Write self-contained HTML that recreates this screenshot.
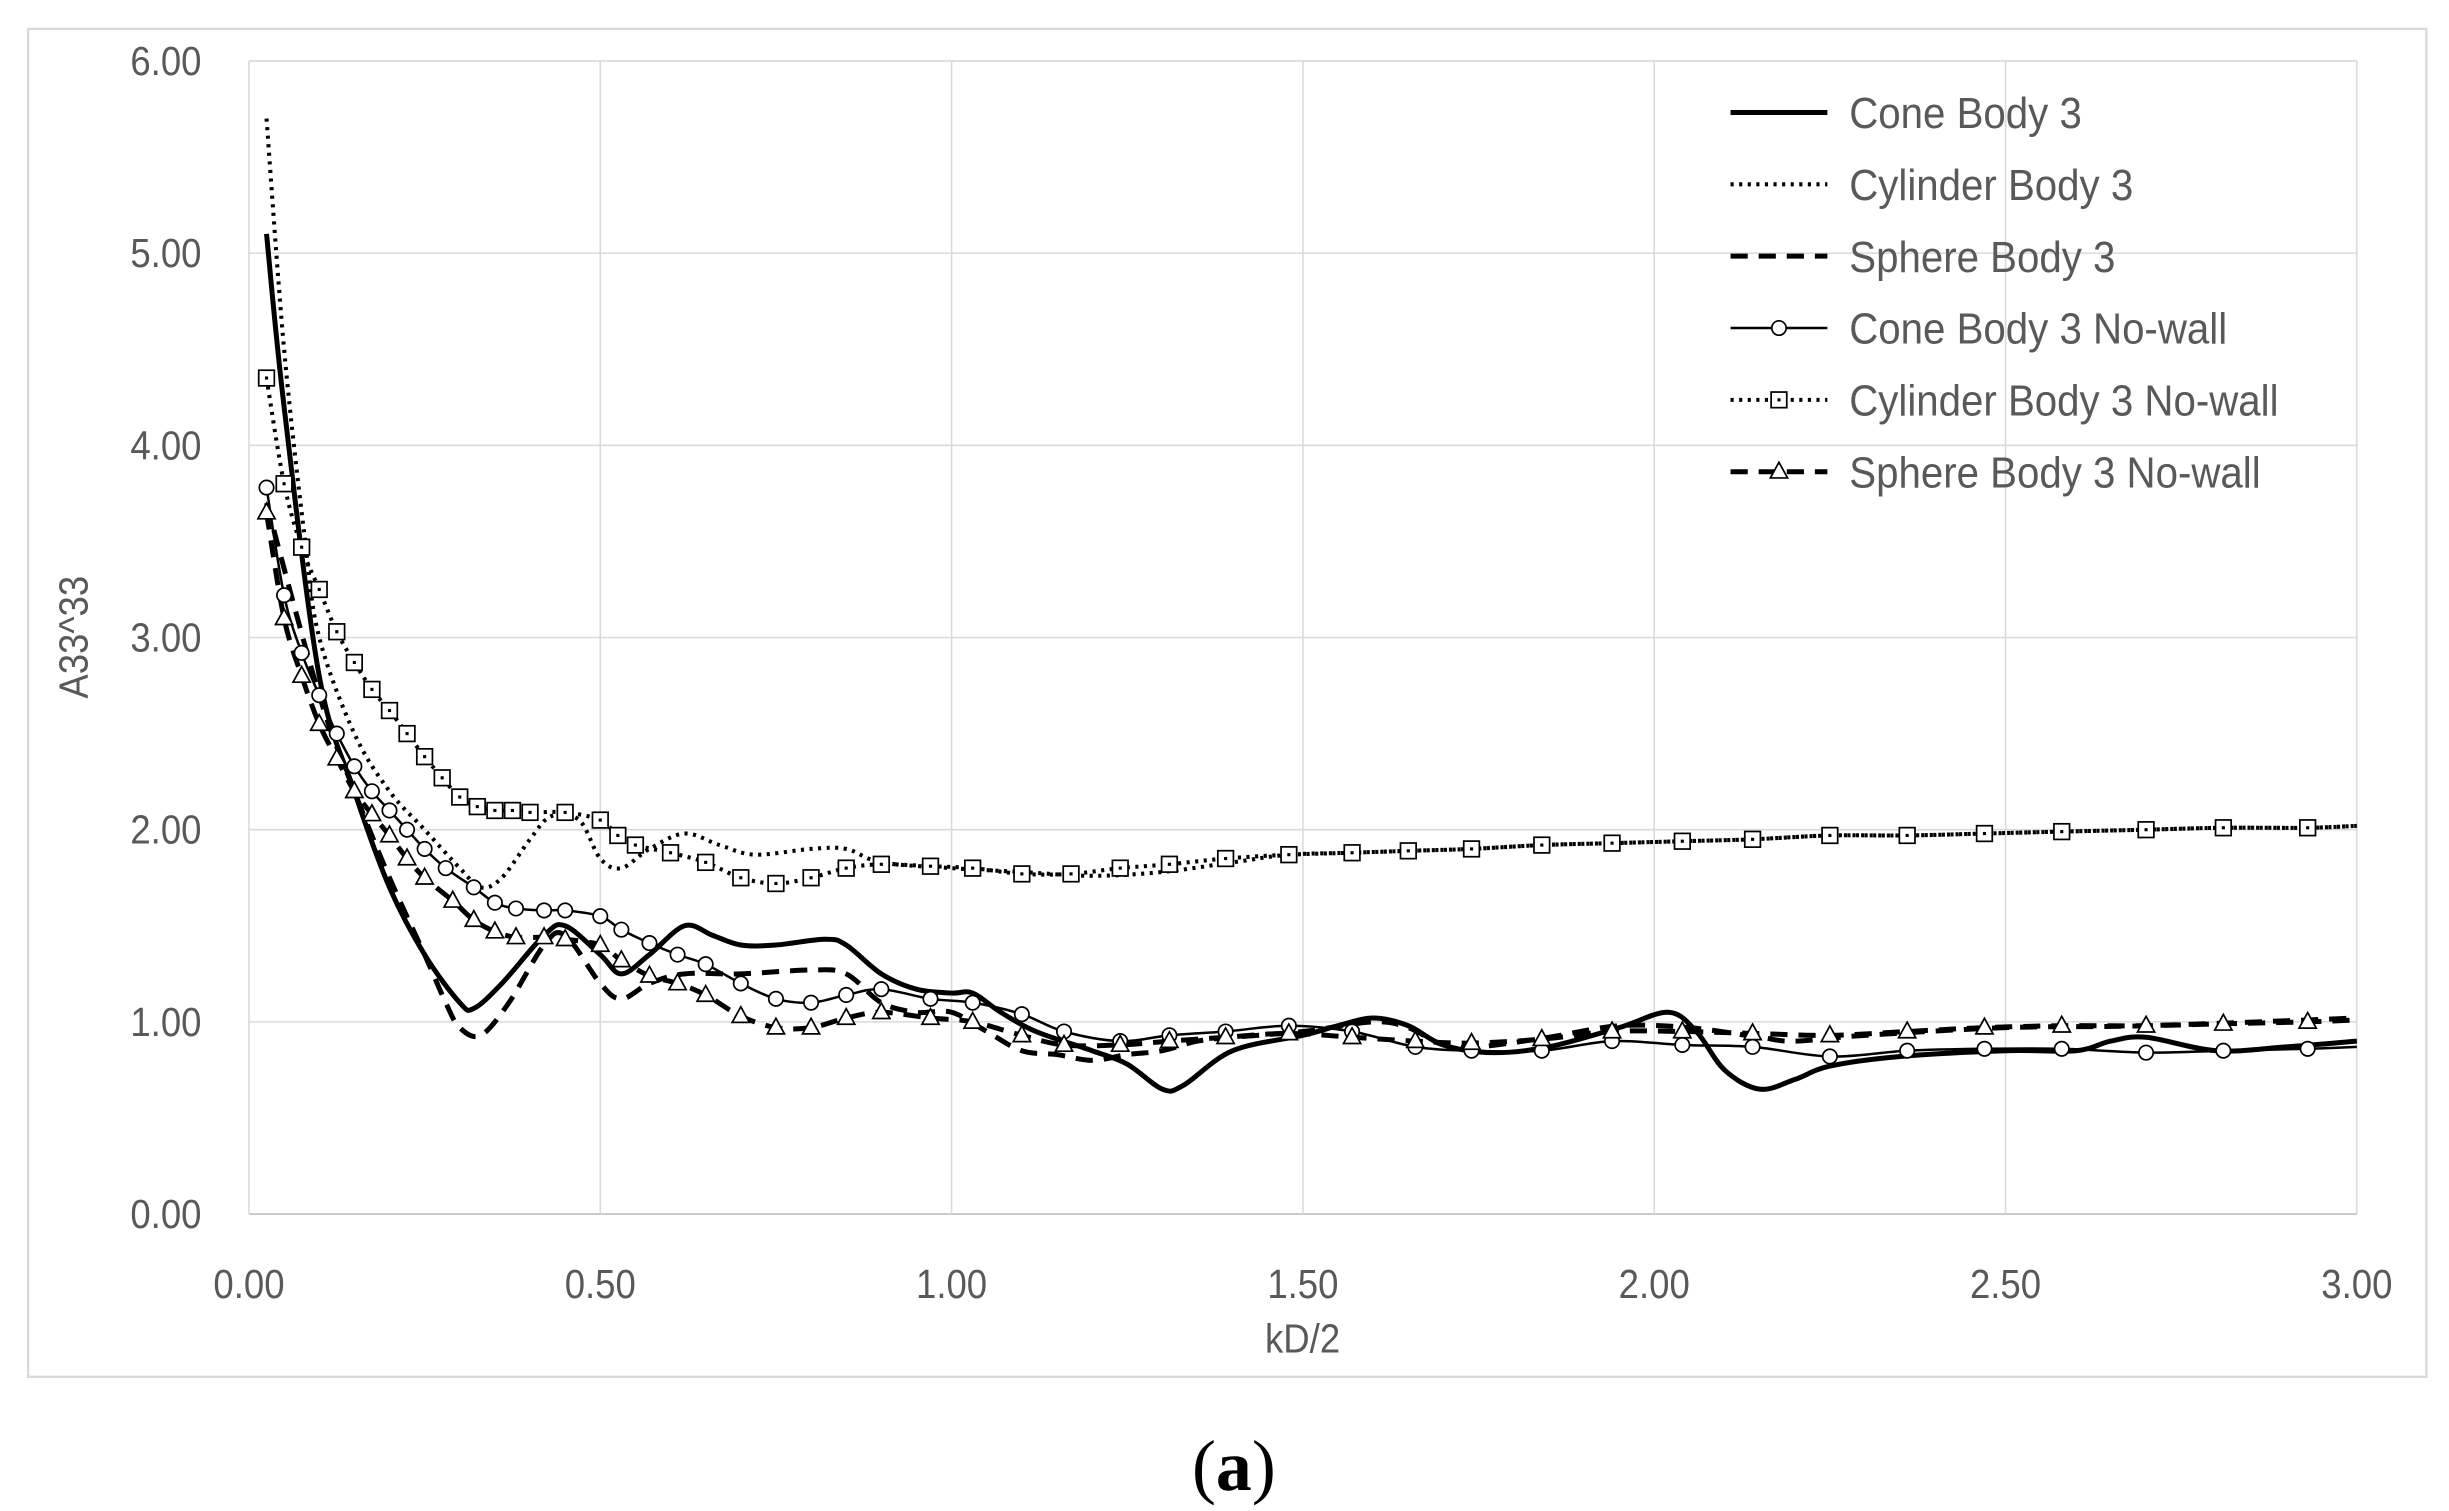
<!DOCTYPE html>
<html><head><meta charset="utf-8"><style>
html,body{margin:0;padding:0;background:#fff;}
svg{display:block;}
text{font-family:"Liberation Sans",sans-serif;fill:#595959;}
</style></head><body>
<svg id="s" width="2449" height="1511" viewBox="0 0 1568 967.4" preserveAspectRatio="none" xmlns="http://www.w3.org/2000/svg">
<rect x="0" y="0" width="1568" height="967.4" fill="#fff"/>
<rect x="18" y="18.5" width="1535.5" height="863" fill="none" stroke="#d9d9d9" stroke-width="1.5"/>
<g id="grid" stroke="#d9d9d9" stroke-width="1"></g>
<g id="labels" font-size="26"></g>
<text x="834" y="866" font-size="26" text-anchor="middle" transform="translate(834,0) scale(0.9,1) translate(-834,0)">kD/2</text>
<text x="0" y="0" font-size="26" text-anchor="middle" transform="translate(56,408) rotate(-90) scale(0.9,1)">A33^33</text>
<g id="series" fill="none" stroke="#000"></g>
<g id="legend" font-size="28"></g>
<text x="790" y="954" font-size="46" text-anchor="middle" style="font-family:'Liberation Serif',serif;fill:#000">(<tspan font-weight="bold">a</tspan>)</text>
</svg>
<script>
var NS="http://www.w3.org/2000/svg";
var L=159.4,R=1509,T=39,B=777.3;
function X(x){return L+x*(R-L)/3}
function Y(y){return B-y*(B-T)/6}
function el(p,t,a,txt){var e=document.createElementNS(NS,t);for(var k in a)e.setAttribute(k,a[k]);if(txt!=null)e.textContent=txt;p.appendChild(e);return e}
var g=document.getElementById('grid'),lb=document.getElementById('labels');
for(var i=0;i<=6;i++){el(g,'line',{x1:L,x2:R,y1:Y(i),y2:Y(i),stroke:i==0?'#bfbfbf':'#d9d9d9'});
 el(lb,'text',{x:129,y:Y(i)+9,'text-anchor':'end',transform:'translate(129,0) scale(0.9,1) translate(-129,0)'},i.toFixed(2));}
for(var i=0;i<=6;i++){var x=X(i*0.5);el(g,'line',{x1:x,x2:x,y1:T,y2:B});
 el(lb,'text',{x:x,y:831,'text-anchor':'middle',transform:'translate('+x+',0) scale(0.9,1) translate('+(-x)+',0)'},(i*0.5).toFixed(2));}
function path(d){var p=d.map(function(v){return [X(v[0]),Y(v[1])]});var s='M'+p[0][0]+','+p[0][1];
 for(var i=0;i<p.length-1;i++){var p0=p[i-1]||p[i],p1=p[i],p2=p[i+1],p3=p[i+2]||p2;
 s+=' C'+(p1[0]+(p2[0]-p0[0])/6)+','+(p1[1]+(p2[1]-p0[1])/6)+' '+(p2[0]-(p3[0]-p1[0])/6)+','+(p2[1]-(p3[1]-p1[1])/6)+' '+p2[0]+','+p2[1];}return s}
function pr(s){return s.trim().split(/\s*,\s*/).map(function(t){return t.trim().split(/\s+/).map(Number)})}
var cone=pr("0.025 5.1,0.05 4.2,0.1 2.8,0.15 2.2,0.2 1.7,0.25 1.35,0.3 1.1,0.32 1.07,0.36 1.2,0.42 1.45,0.45 1.5,0.5 1.35,0.53 1.25,0.57 1.35,0.62 1.5,0.66 1.45,0.7 1.4,0.75 1.4,0.82 1.43,0.85 1.4,0.9 1.25,0.95 1.17,1.0 1.15,1.03 1.15,1.07 1.05,1.12 0.95,1.2 0.85,1.25 0.78,1.3 0.65,1.33 0.67,1.4 0.85,1.5 0.93,1.55 0.98,1.6 1.02,1.65 0.98,1.7 0.88,1.77 0.84,1.85 0.87,1.95 0.97,2.02 1.05,2.06 0.95,2.1 0.75,2.15 0.65,2.2 0.7,2.25 0.77,2.35 0.82,2.5 0.85,2.6 0.85,2.65 0.9,2.7 0.92,2.8 0.85,2.9 0.87,3.0 0.9");
var cyl=pr("0.025 5.7,0.05 4.5,0.08 3.5,0.1 3.0,0.15 2.5,0.2 2.2,0.25 2.0,0.3 1.8,0.33 1.7,0.36 1.75,0.4 1.95,0.43 2.07,0.47 2.05,0.5 1.85,0.53 1.8,0.57 1.9,0.62 1.98,0.67 1.92,0.72 1.87,0.8 1.9,0.85 1.9,0.9 1.83,1.0 1.8,1.1 1.78,1.2 1.76,1.3 1.78,1.4 1.83,1.48 1.87,1.57 1.88,1.65 1.89,1.74 1.9,1.84 1.92,1.94 1.93,2.04 1.94,2.14 1.95,2.25 1.97,2.36 1.97,2.47 1.98,2.58 1.99,2.7 2.0,2.81 2.01,2.93 2.01,3.0 2.02");
var sph=pr("0.025 3.7,0.1 2.7,0.15 2.2,0.2 1.75,0.25 1.35,0.28 1.1,0.3 0.97,0.33 0.93,0.37 1.1,0.42 1.4,0.45 1.45,0.5 1.2,0.53 1.12,0.57 1.2,0.62 1.25,0.7 1.25,0.8 1.27,0.85 1.25,0.9 1.1,0.95 1.05,1.0 1.05,1.05 0.95,1.1 0.85,1.15 0.83,1.2 0.8,1.25 0.83,1.3 0.85,1.35 0.9,1.4 0.92,1.5 0.95,1.6 1.0,1.65 0.97,1.7 0.88,1.75 0.87,1.85 0.92,1.95 0.98,2.05 0.97,2.15 0.92,2.2 0.9,2.3 0.93,2.5 0.97,2.7 0.98,3.0 1.02");
var conew=pr("0.025 3.78,0.05 3.22,0.075 2.92,0.1 2.7,0.125 2.5,0.15 2.33,0.175 2.2,0.2 2.1,0.225 2.0,0.25 1.9,0.28 1.8,0.32 1.7,0.35 1.62,0.38 1.59,0.42 1.58,0.45 1.58,0.5 1.55,0.53 1.48,0.57 1.41,0.61 1.35,0.65 1.3,0.7 1.2,0.75 1.12,0.8 1.1,0.85 1.14,0.9 1.17,0.97 1.12,1.03 1.1,1.1 1.04,1.16 0.95,1.24 0.9,1.31 0.93,1.39 0.95,1.48 0.98,1.57 0.95,1.66 0.87,1.74 0.85,1.84 0.85,1.94 0.9,2.04 0.88,2.14 0.87,2.25 0.82,2.36 0.85,2.47 0.86,2.58 0.86,2.7 0.84,2.81 0.85,2.93 0.86,3.0 0.87");
var cylw=pr("0.025 4.35,0.05 3.8,0.075 3.47,0.1 3.25,0.125 3.03,0.15 2.87,0.175 2.73,0.2 2.62,0.225 2.5,0.25 2.38,0.275 2.27,0.3 2.17,0.325 2.12,0.35 2.1,0.375 2.1,0.4 2.09,0.45 2.09,0.5 2.05,0.525 1.97,0.55 1.92,0.6 1.88,0.65 1.83,0.7 1.75,0.75 1.72,0.8 1.75,0.85 1.8,0.9 1.82,0.97 1.81,1.03 1.8,1.1 1.77,1.17 1.77,1.24 1.8,1.31 1.82,1.39 1.85,1.48 1.87,1.57 1.88,1.65 1.89,1.74 1.9,1.84 1.92,1.94 1.93,2.04 1.94,2.14 1.95,2.25 1.97,2.36 1.97,2.47 1.98,2.58 1.99,2.7 2.0,2.81 2.01,2.93 2.01,3.0 2.02");
var sphw=pr("0.025 3.65,0.05 3.1,0.075 2.8,0.1 2.55,0.125 2.37,0.15 2.2,0.175 2.08,0.2 1.97,0.225 1.85,0.25 1.75,0.29 1.63,0.32 1.53,0.35 1.47,0.38 1.44,0.42 1.44,0.45 1.43,0.5 1.4,0.53 1.32,0.57 1.24,0.61 1.2,0.65 1.14,0.7 1.03,0.75 0.97,0.8 0.97,0.85 1.02,0.9 1.05,0.97 1.02,1.03 1.0,1.1 0.93,1.16 0.88,1.24 0.88,1.31 0.9,1.39 0.92,1.48 0.94,1.57 0.92,1.66 0.9,1.74 0.89,1.84 0.91,1.94 0.95,2.04 0.95,2.14 0.94,2.25 0.93,2.36 0.95,2.47 0.97,2.58 0.98,2.7 0.98,2.81 0.99,2.93 1.0,3.0 1.01");
var sg=document.getElementById('series');
var styles={cone:{'stroke-width':3.2},cyl:{'stroke-width':2.6,'stroke-dasharray':'2 3.5'},sph:{'stroke-width':3.2,'stroke-dasharray':'11 7'},
 conew:{'stroke-width':1.6},cylw:{'stroke-width':2.6,'stroke-dasharray':'2 3.5'},sphw:{'stroke-width':3.2,'stroke-dasharray':'11 7'}};
function line(d,st){var a={d:path(d)};for(var k in st)a[k]=st[k];el(sg,'path',a)}
line(cyl,styles.cyl);line(cylw,styles.cylw);line(sph,styles.sph);line(sphw,styles.sphw);line(conew,styles.conew);line(cone,styles.cone);
function mark(g,t,x,y){if(t=='o')el(g,'circle',{cx:x,cy:y,r:4.6,fill:'#fff',stroke:'#000','stroke-width':1.1});
 else if(t=='s'){el(g,'rect',{x:x-5,y:y-5,width:10,height:10,fill:'#fff',stroke:'#000','stroke-width':1.1});el(g,'rect',{x:x-1,y:y-1,width:2,height:2,fill:'#000',stroke:'none'});}
 else el(g,'path',{d:'M'+x+','+(y-6)+' L'+(x+5.5)+','+(y+4)+' L'+(x-5.5)+','+(y+4)+' Z',fill:'#fff',stroke:'#000','stroke-width':1.1});}
var mg=el(sg,'g',{});
cylw.forEach(function(p){if(p[0]<3)mark(mg,'s',X(p[0]),Y(p[1]))});
conew.forEach(function(p){if(p[0]<3)mark(mg,'o',X(p[0]),Y(p[1]))});
sphw.forEach(function(p){if(p[0]<3)mark(mg,'t',X(p[0]),Y(p[1]))});
var lg=document.getElementById('legend');
var items=[['Cone Body 3','cone',null],['Cylinder Body 3','cyl',null],['Sphere Body 3','sph',null],['Cone Body 3 No-wall','conew','o'],['Cylinder Body 3 No-wall','cylw','s'],['Sphere Body 3 No-wall','sphw','t']];
items.forEach(function(it,i){var y=72+i*46;var a={x1:1108,x2:1170,y1:y,y2:y,stroke:'#000'};var st=styles[it[1]];for(var k in st)a[k]=st[k];el(lg,'line',a);
 if(it[2])mark(lg,it[2],1139,y);
 el(lg,'text',{x:1184,y:y+10,transform:'translate(1184,0) scale(0.92,1) translate(-1184,0)'},it[0]);});
</script>
</body></html>
